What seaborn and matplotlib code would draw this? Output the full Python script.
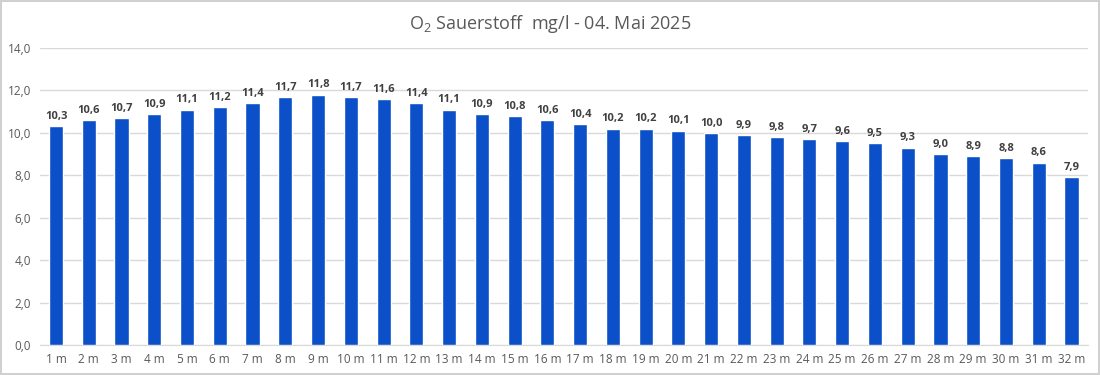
import matplotlib
matplotlib.use('Agg')
import matplotlib.pyplot as plt
import pandas as pd
import seaborn as sns

# Sauerstoff je Tiefe
depths = [f'{i} m' for i in range(1, 33)]
o2 = [10.3, 10.6, 10.7, 10.9, 11.1, 11.2, 11.4, 11.7, 11.8, 11.7, 11.6, 11.4,
      11.1, 10.9, 10.8, 10.6, 10.4, 10.2, 10.2, 10.1, 10.0, 9.9, 9.8, 9.7,
      9.6, 9.5, 9.3, 9.0, 8.9, 8.8, 8.6, 7.9]
y_ticks = [0, 2, 4, 6, 8, 10, 12, 14]

df = pd.DataFrame({'tiefe': depths, 'o2': o2})

sns.set_style('white')
plt.rcParams['font.family'] = ['Open Sans', 'DejaVu Sans']
plt.rcParams['mathtext.fontset'] = 'custom'
plt.rcParams['mathtext.rm'] = 'Open Sans'
plt.rcParams['mathtext.it'] = 'Open Sans'

fig = plt.figure(figsize=(11, 3.75), dpi=100)
fig.patch.set_edgecolor('#d0d0d0')
fig.patch.set_linewidth(1.5)
ax = fig.add_axes([0.036, 0.08, 0.953, 0.792])

sns.barplot(data=df, x='tiefe', y='o2', color='#0b50c8', saturation=1,
            width=0.43, ax=ax, zorder=3)

for i, v in enumerate(o2):
    ax.text(i, v + 0.2, f'{v:.1f}'.replace('.', ','), ha='center', va='bottom',
            fontsize=8, fontweight='bold', color='#404040')

ax.set_ylim(0, 14)
ax.set_xlim(-0.5, len(depths) - 0.5)
ax.set_yticks(y_ticks)
ax.set_yticklabels([f'{t:.1f}'.replace('.', ',') for t in y_ticks])
ax.yaxis.grid(True, color='#d9d9d9', linewidth=1, zorder=0)
ax.set_axisbelow(True)
ax.tick_params(axis='both', length=0, labelsize=8.5, labelcolor='#595959')
ax.tick_params(axis='y', pad=6)
ax.tick_params(axis='x', pad=6)
ax.set_xlabel('')
ax.set_ylabel('')
for s in ['top', 'right', 'left']:
    ax.spines[s].set_visible(False)
ax.spines['bottom'].set_color('#d9d9d9')

fig.suptitle('O$_2$ Sauerstoff  mg/l - 04. Mai 2025', y=0.965, fontsize=13,
             color='#595959')

plt.savefig('out.png', dpi=100)
